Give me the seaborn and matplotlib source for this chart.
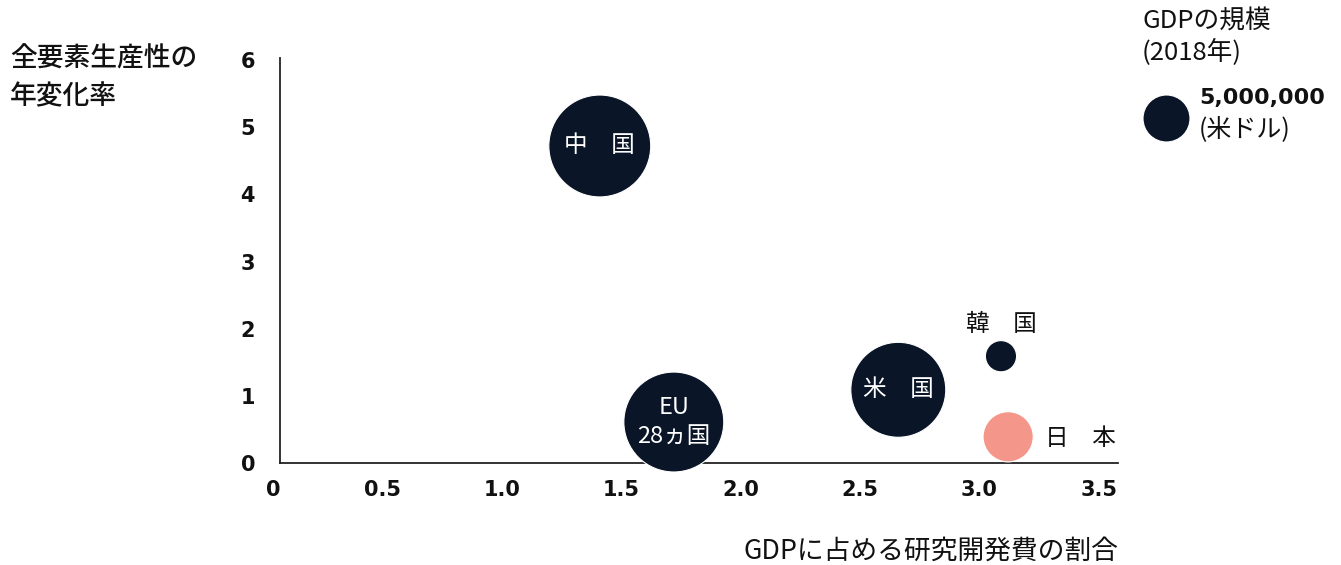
import matplotlib
matplotlib.use("Agg")
import matplotlib.pyplot as plt
import matplotlib.transforms as mtransforms
import numpy as np
import pandas as pd
import seaborn as sns

# --- data -------------------------------------------------------------
countries = ["中国", "EU", "米国", "韓国", "日本"]
rd_share = [1.41, 1.72, 2.66, 3.09, 3.12]          # GDPに占める研究開発費の割合 (%)
tfp_growth = [4.72, 0.61, 1.09, 1.59, 0.39]        # 全要素生産性の年変化率 (%)
gdp_size = [23.5e6, 22.6e6, 20.4e6, 2.2e6, 5.7e6]  # GDPの規模 (2018年, 米ドル)
groups = ["other", "other", "other", "other", "japan"]
bubble_labels = ["中　国", "EU\n28ヵ国", "米　国", "韓　国", "日　本"]

x_ticks = [0.5, 1.0, 1.5, 2.0, 2.5, 3.0, 3.5]
y_ticks = [0, 1, 2, 3, 4, 5, 6]
legend_gdp = 5_000_000

NAVY = "#0a1628"
SALMON = "#f4968a"
INK = "#111111"

sns.set_theme(style="white")
plt.rcParams["font.family"] = ["Noto Sans CJK JP", "DejaVu Sans"]

df = pd.DataFrame({
    "country": countries,
    "rd": rd_share,
    "tfp": tfp_growth,
    "gdp": gdp_size,
    "group": groups,
})

W, H = 1341, 565
fig = plt.figure(figsize=(W / 100, H / 100), dpi=100)
ax = fig.add_axes([280 / W, 102 / H, (1118 - 280) / W, (463 - 58) / H])

SIZE_NORM = (0, 25e6)
SIZES = (0, 5725)
palette = {"other": NAVY, "japan": SALMON}

sns.scatterplot(data=df, x="rd", y="tfp", size="gdp", sizes=SIZES,
                size_norm=SIZE_NORM, hue="group", palette=palette,
                legend=False, edgecolor="white", linewidth=0.8, alpha=1,
                ax=ax, zorder=3, clip_on=False)

x_min, x_max = 0.071, 3.58
ax.set_xlim(x_min, x_max)
ax.set_ylim(0, 6.03)

for s in ["top", "right"]:
    ax.spines[s].set_visible(False)
for s in ["left", "bottom"]:
    ax.spines[s].set_color("#222222")
    ax.spines[s].set_linewidth(1.3)

ax.set_xticks([x_min] + x_ticks)
ax.set_xticklabels(["0"] + [f"{v:.1f}" for v in x_ticks])
ax.set_yticks(y_ticks)
ax.set_yticklabels([str(v) for v in y_ticks])
ax.tick_params(axis="x", length=0, pad=12)
ax.tick_params(axis="y", length=0, pad=18)
for t in ax.get_xticklabels() + ax.get_yticklabels():
    t.set_fontfamily("DejaVu Sans")
    t.set_fontweight("bold")
    t.set_fontsize(15)
    t.set_color(INK)
# nudge the origin label slightly left of the corner
first = ax.get_xticklabels()[0]
first.set_transform(first.get_transform() +
                    mtransforms.ScaledTranslation(-7 / 100, 0, fig.dpi_scale_trans))

ax.set_ylabel("全要素生産性の\n年変化率", rotation=0, ha="left", va="top",
              fontsize=19.3, fontweight="medium", color=INK, linespacing=1.5)
ax.yaxis.set_label_coords(-0.322, 1.03)
ax.set_xlabel("GDPに占める研究開発費の割合", ha="right", va="center",
              fontsize=19.3, color=INK)
ax.xaxis.set_label_coords(1.0, -0.217)

# bubble labels: (dx, dy, colour, line spacing), offsets in points from the centre
offsets = {
    "中国": (0, 0, "white", 1.0),
    "EU": (0, 0, "white", 1.3),
    "米国": (0, 0, "white", 1.0),
    "韓国": (0, 23, INK, 1.0),
    "日本": (52, -1, INK, 1.0),
}
for name, lab, x, y in zip(countries, bubble_labels, rd_share, tfp_growth):
    dx, dy, col, ls = offsets[name]
    ax.annotate(lab, (x, y), xytext=(dx, dy), textcoords="offset points",
                ha="center", va="center", fontsize=17, color=col,
                linespacing=ls, zorder=5)

# size legend
lax = fig.add_axes([(1166 - 30) / W, (H - 118 - 30) / H, 60 / W, 60 / H])
sns.scatterplot(x=[0], y=[0], size=[legend_gdp], sizes=SIZES, size_norm=SIZE_NORM,
                color=NAVY, edgecolor="white", linewidth=0.8, legend=False, ax=lax)
lax.set_xlim(-1, 1)
lax.set_ylim(-1, 1)
lax.axis("off")

fig.text(1142 / W, 1 - 22 / H, "GDPの規模", ha="left", va="center",
         fontsize=18.5, color=INK)
fig.text(1142 / W, 1 - 52 / H, "(2018年)", ha="left", va="center",
         fontsize=18.5, color=INK)
fig.text(1199 / W, 1 - 98 / H, f"{legend_gdp:,}", ha="left", va="center",
         fontsize=16, fontweight="bold", family="DejaVu Sans", color=INK)
fig.text(1199 / W, 1 - 130 / H, "(米ドル)", ha="left", va="center",
         fontsize=18, color=INK)

fig.savefig("out.png", dpi=100, facecolor="white")
